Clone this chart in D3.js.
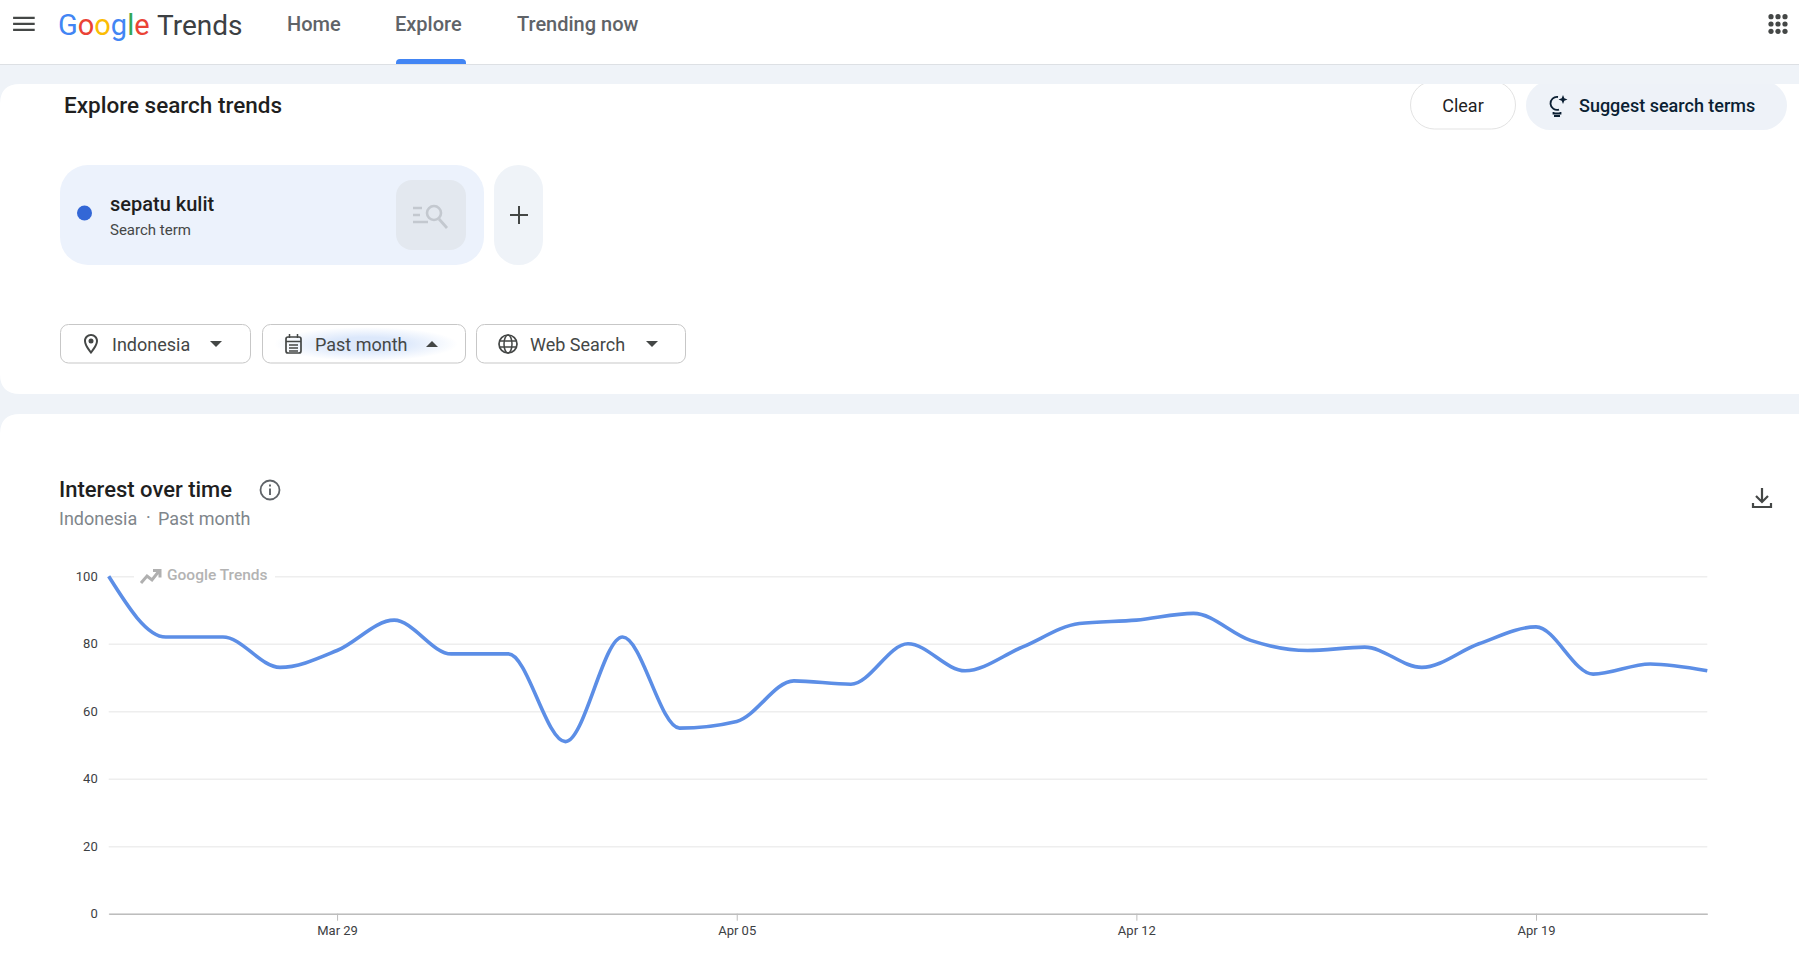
<!DOCTYPE html>
<html>
<head>
<meta charset="utf-8">
<title>Google Trends - sepatu kulit</title>
<script src="https://cdn.jsdelivr.net/npm/d3@7"></script>
<style>
  html, body { margin: 0; padding: 0; background: #eff3f8; overflow: hidden; }
  svg { display: block; }
  text { font-family: Roboto, sans-serif; }
</style>
</head>
<body>
<svg id="page" width="1799" height="967"></svg>
<script>
// daily values, Mar 25 - Apr 22
var startDate = new Date(2024, 2, 25);
var interest = [100, 82, 82, 73, 78, 87, 77, 77, 51, 82, 55, 57, 69, 68, 80,
  72, 79, 86, 87, 89, 81, 78, 79, 73, 80, 85, 71, 74, 72];
var yTicks = [0, 20, 40, 60, 80, 100];
var xTickDates = [new Date(2024, 2, 29), new Date(2024, 3, 5), new Date(2024, 3, 12), new Date(2024, 3, 19)];
var navItems = ['Home', 'Explore', 'Trending now'];
var logoLetters = ['G', 'o', 'o', 'g', 'l', 'e'];
var logoColors = ['#4285f4', '#ea4335', '#fbbc05', '#4285f4', '#34a853', '#ea4335'];

var svg = d3.select('#page');
var ICON = '#444746';

function label(parent, x, y, str, size, color, weight, anchor) {
  return parent.append('text')
    .attr('x', x).attr('y', y)
    .attr('dominant-baseline', 'central')
    .attr('text-anchor', anchor || 'start')
    .attr('font-size', size)
    .attr('font-weight', weight || 400)
    .attr('fill', color)
    .text(str);
}

function icon(d, x, y, scale, color) {
  return svg.append('path')
    .attr('d', d)
    .attr('transform', 'translate(' + x + ',' + y + ') scale(' + scale + ')')
    .attr('fill', color || ICON);
}

// header
svg.append('rect').attr('width', 1799).attr('height', 64).attr('fill', '#fff');
svg.append('rect').attr('y', 64).attr('width', 1799).attr('height', 1).attr('fill', '#dde0e4');
icon('M3 18h18v-2H3v2zm0-5h18v-2H3v2zm0-7v2h18V6H3z', 9.5, 9.5, 1.2);

var logo = svg.append('text').attr('x', 58).attr('y', 25).attr('dominant-baseline', 'central').attr('font-size', 29);
logo.selectAll('tspan').data(logoLetters).enter().append('tspan')
  .attr('fill', function(d, i) { return logoColors[i]; })
  .text(function(d) { return d; });
label(svg, 157, 25, 'Trends', 28, '#3c4043');

var navX = [287, 395, 517];
navItems.forEach(function(d, i) {
  label(svg, navX[i], 24, d, 20, '#5f6368', 500);
});
svg.append('path').attr('d', 'M396 64v-1q0-4 4-4h62q4 0 4 4v1z').attr('fill', '#4285f4');

[1771, 1778, 1785].forEach(function(cx) {
  [16.7, 24, 31.3].forEach(function(cy) {
    svg.append('circle').attr('cx', cx).attr('cy', cy).attr('r', 2.6).attr('fill', '#444746');
  });
});

// search card
svg.append('path').attr('d', 'M0 104q0-20 20-20H1799V394H20q-20 0-20-20z').attr('fill', '#fff');
label(svg, 64, 105, 'Explore search trends', 22.5, '#1f1f1f', 500);

svg.append('rect').attr('x', 1410.5).attr('y', 81).attr('width', 105).attr('height', 48).attr('rx', 24)
  .attr('fill', '#fff').attr('stroke', '#e3e3e3');
label(svg, 1463, 105, 'Clear', 18, '#1f1f1f', 400, 'middle');
svg.append('rect').attr('x', 1526).attr('y', 81).attr('width', 261).attr('height', 49).attr('rx', 24.5).attr('fill', '#eef2f8');
label(svg, 1579, 105, 'Suggest search terms', 18, '#0b1f33', 500);
// bulb
svg.append('path').attr('d', 'M1558 97a6.5 6.5 0 1 0 1 12.6M1553.5 112l0 1.5h7l0-1.5M1554 116h6')
  .attr('fill', 'none').attr('stroke', '#0b1f33').attr('stroke-width', 1.8);
svg.append('path').attr('d', 'M1563 95l1.3 3.2 3.2 1.3-3.2 1.3-1.3 3.2-1.3-3.2-3.2-1.3 3.2-1.3z').attr('fill', '#0b1f33');
// band above the card hides the top of the two buttons
svg.append('rect').attr('x', 1400).attr('y', 65).attr('width', 399).attr('height', 19).attr('fill', '#eff3f8');

// term chip
svg.append('rect').attr('x', 60).attr('y', 165).attr('width', 424).attr('height', 100).attr('rx', 28).attr('fill', '#ecf2fc');
svg.append('circle').attr('cx', 84.5).attr('cy', 213).attr('r', 7.5).attr('fill', '#3367d6');
label(svg, 110, 204, 'sepatu kulit', 20, '#1f1f1f', 500);
label(svg, 110, 230, 'Search term', 15, '#444746');
svg.append('rect').attr('x', 396).attr('y', 180).attr('width', 70).attr('height', 70).attr('rx', 16).attr('fill', '#e3e8ef');
svg.append('path').attr('d', 'M413 208h9M413 215h7M413 222h15')
  .attr('stroke', '#c3c8cf').attr('stroke-width', 2.6).attr('fill', 'none');
svg.append('circle').attr('cx', 434).attr('cy', 213).attr('r', 7).attr('fill', 'none').attr('stroke', '#c3c8cf').attr('stroke-width', 2.6);
svg.append('path').attr('d', 'M439 219l8 9').attr('stroke', '#c3c8cf').attr('stroke-width', 2.8);

svg.append('rect').attr('x', 494).attr('y', 165).attr('width', 49).attr('height', 100).attr('rx', 24.5).attr('fill', '#eff3f8');
svg.append('path').attr('d', 'M519 206v18M510 215h18').attr('stroke', '#444746').attr('stroke-width', 2);

// filter buttons
var defs = svg.append('defs');
var glow = defs.append('radialGradient').attr('id', 'glow');
glow.append('stop').attr('offset', '40%').attr('stop-color', '#dce8fb');
glow.append('stop').attr('offset', '100%').attr('stop-color', '#dce8fb').attr('stop-opacity', 0);

var filterNames = ['Indonesia', 'Past month', 'Web Search'];
var filterBox = [[60, 190], [262, 203], [476, 209]];
var filterText = [112, 315, 530];
var filterArrow = [216, 432, 652];
filterNames.forEach(function(d, i) {
  svg.append('rect').attr('x', filterBox[i][0] + 0.5).attr('y', 324.5)
    .attr('width', filterBox[i][1]).attr('height', 38.5).attr('rx', 8)
    .attr('fill', '#fff').attr('stroke', '#c7c7c7');
  if (i == 1) {
    svg.append('ellipse').attr('cx', 366).attr('cy', 344).attr('rx', 92).attr('ry', 17).attr('fill', 'url(#glow)');
  }
  label(svg, filterText[i], 344, d, 18, '#444746');
  svg.append('path')
    .attr('d', i == 1 ? 'M-6 3L0 -3L6 3z' : 'M-6 -3L0 3L6 -3z')
    .attr('transform', 'translate(' + filterArrow[i] + ',344)')
    .attr('fill', '#444746');
});
icon('M12 2C8.13 2 5 5.13 5 9c0 5.25 7 13 7 13s7-7.75 7-13c0-3.87-3.13-7-7-7zM7 9c0-2.76 2.24-5 5-5s5 2.24 5 5c0 2.88-2.88 7.19-5 9.88C9.92 16.21 7 11.85 7 9z', 79, 332, 1);
svg.append('circle').attr('cx', 91).attr('cy', 341).attr('r', 2.5).attr('fill', ICON);
// calendar
svg.append('rect').attr('x', 286).attr('y', 337).attr('width', 15).attr('height', 16).attr('rx', 2)
  .attr('fill', 'none').attr('stroke', ICON).attr('stroke-width', 1.7);
svg.append('path').attr('d', 'M286 341.500h15M289.500 334v4M297.500 334v4M289 345h9M289 348h9M289 351h9')
  .attr('fill', 'none').attr('stroke', ICON).attr('stroke-width', 1.5);
// globe
svg.append('circle').attr('cx', 508).attr('cy', 344).attr('r', 9).attr('fill', 'none').attr('stroke', ICON).attr('stroke-width', 1.7);
svg.append('ellipse').attr('cx', 508).attr('cy', 344).attr('rx', 4).attr('ry', 9).attr('fill', 'none').attr('stroke', ICON).attr('stroke-width', 1.5);
svg.append('path').attr('d', 'M500 341h16M500 347h16').attr('stroke', ICON).attr('stroke-width', 1.5);

// chart card
svg.append('path').attr('d', 'M0 967V434q0-20 20-20H1799V967z').attr('fill', '#fff');
label(svg, 59, 489, 'Interest over time', 22, '#1f1f1f', 500);
svg.append('circle').attr('cx', 270).attr('cy', 490).attr('r', 9.5).attr('fill', 'none').attr('stroke', '#5f6368').attr('stroke-width', 1.8);
svg.append('path').attr('d', 'M270 488.500v6.500M270 484.500v2').attr('stroke', '#5f6368').attr('stroke-width', 1.9);
label(svg, 59, 518, 'Indonesia', 18, '#80868b');
label(svg, 146, 517, '·', 18, '#80868b');
label(svg, 158, 518, 'Past month', 18, '#80868b');
svg.append('path').attr('d', 'M1762 488v13M1756 496l6 6 6-6M1753 503v4h18v-4')
  .attr('fill', 'none').attr('stroke', '#444746').attr('stroke-width', 2.2);

// the plot
var margin = { left: 108.7, right: 1707.3, top: 576.3, bottom: 913.7 };
var dates = interest.map(function(d, i) { return d3.timeDay.offset(startDate, i); });

var x = d3.scaleTime()
  .domain(d3.extent(dates))
  .range([margin.left, margin.right]);
var y = d3.scaleLinear()
  .domain([0, 100])
  .range([margin.bottom, margin.top]);

var yAxis = svg.append('g')
  .attr('transform', 'translate(' + margin.left + ',0)')
  .call(d3.axisLeft(y).tickValues(yTicks).tickSize(-(margin.right - margin.left)).tickPadding(11));
yAxis.select('.domain').remove();
yAxis.selectAll('.tick line').attr('stroke', '#eeeeee').attr('stroke-width', 1.5);
yAxis.selectAll('.tick text').attr('font-size', 13).attr('font-family', 'Roboto, sans-serif').attr('fill', '#3c4043');

var xAxis = svg.append('g')
  .attr('transform', 'translate(0,' + margin.bottom + ')')
  .call(d3.axisBottom(x).tickValues(xTickDates).tickFormat(d3.timeFormat('%b %d')).tickSize(7).tickSizeOuter(0).tickPadding(5));
xAxis.select('.domain').attr('stroke', '#bdbdbd').attr('stroke-width', 1.5);
xAxis.selectAll('.tick line').attr('stroke', '#bdbdbd');
xAxis.selectAll('.tick text').attr('font-size', 13).attr('font-family', 'Roboto, sans-serif').attr('fill', '#3c4043');

// watermark sits on the 100 gridline
svg.append('rect').attr('x', 134).attr('y', 566).attr('width', 141).attr('height', 20).attr('fill', '#fff');
svg.append('path').attr('d', 'M141 583l6-7 5 4 7-9M153 570.500h7v7')
  .attr('fill', 'none').attr('stroke', '#b0b0b0').attr('stroke-width', 3);
label(svg, 167, 575, 'Google Trends', 15.5, '#b3b3b3', 500);

var line = d3.line()
  .x(function(d, i) { return x(dates[i]); })
  .y(function(d) { return y(d); })
  .curve(d3.curveMonotoneX);

svg.append('path')
  .datum(interest)
  .attr('d', line)
  .attr('fill', 'none')
  .attr('stroke', '#5c8ee6')
  .attr('stroke-width', 3.6);
</script>
</body>
</html>
